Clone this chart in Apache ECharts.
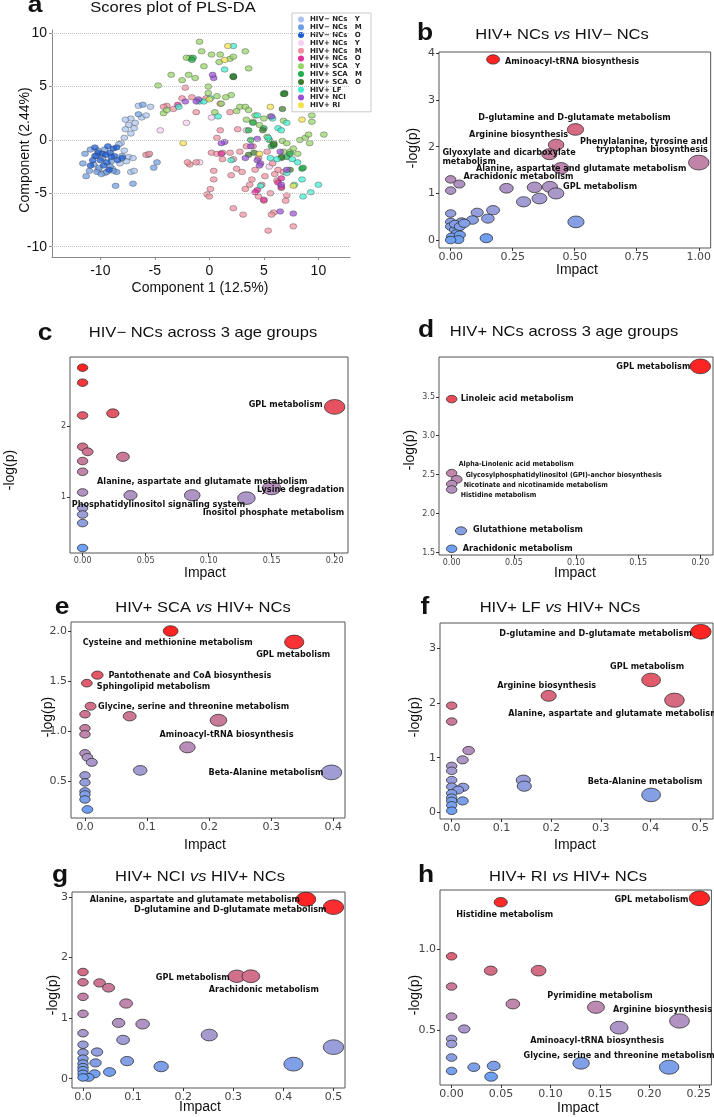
<!DOCTYPE html>
<html><head><meta charset="utf-8">
<script src="https://cdn.jsdelivr.net/npm/echarts@6.0.0/dist/echarts.min.js"></script>
<style>html,body{margin:0;padding:0;background:#fff}#c{width:714px;height:1117px}</style>
</head><body><div id="c"></div>
<script>
// ================= DATA =================
// Panel a: PLS-DA scores [Component 1, Component 2]
const plsGroupNames = ['HIV− NCs   Y','HIV− NCs   M','HIV− NCs   O','HIV+ NCs   Y','HIV+ NCs   M','HIV+ NCs   O','HIV+ SCA   Y','HIV+ SCA   M','HIV+ SCA   O','HIV+ LF','HIV+ NCI','HIV+ RI'];
const plsNegNcY = [[-6.5,3.2],[-7.2,2.0],[-7.7,1.9],[-7.4,1.4],[-7.7,1.0],[-6.9,1.1],[-6.2,2.1],[-5.4,3.1],[-5.8,2.3],[-7.2,0.6],[-7.8,0.2],[-8.1,-0.3],[-7.8,-1.0],[-7.4,-1.6],[-7.0,-1.7],[-7.6,-2.0],[-8.2,-2.2],[-7.2,-3.0],[-6.9,-2.9],[-5.6,-1.4],[-8.9,-2.7],[-9.6,-3.1],[-10.2,-2.8],[-6.8,1.6],[-8.3,-0.4]];
const plsNegNcM = [[-11.6,-2.2],[-11.3,-3.4],[-11.0,-2.9],[-10.6,-2.3],[-10.3,-3.0],[-10.1,-2.6],[-9.9,-3.2],[-9.4,-3.0],[-9.1,-2.5],[-11.4,-1.3],[-10.2,-1.0],[-9.6,-0.9],[-10.9,-0.9],[-8.6,-4.3],[-7.0,-4.1],[-5.1,-2.6],[-4.8,-2.1],[-9.0,-2.0],[-8.5,-3.0],[-6.1,3.3],[-10.5,-1.5],[-9.8,-1.7],[-8.0,-1.5],[-8.8,-2.9],[-6.5,2.4]];
const plsNegNcO = [[-10.5,-0.7],[-10.2,-1.2],[-9.8,-1.3],[-9.5,-1.4],[-9.1,-1.2],[-8.8,-0.8],[-8.5,-0.7],[-8.7,-1.5],[-9.0,-1.6],[-9.4,-2.1],[-10.0,-1.9],[-10.4,-1.5],[-9.7,-2.4],[-9.2,-2.8],[-8.4,-1.9],[-8.0,-1.7],[-10.7,-1.9],[-10.9,-2.4],[-9.3,-0.6]];
const plsPosNcY = [[-4.5,0.9],[-2.1,1.6],[0.2,2.1],[3.4,0.9],[-0.9,-2.1],[5.5,-2.5]];
const plsPosNcM = [[-5.8,-1.4],[-5.5,-1.3],[-2.2,4.9],[-2.5,3.9],[-1.6,4.0],[-1.2,2.6],[-3.3,2.9],[-3.9,3.2],[-4.2,3.1],[1.0,0.9],[0.7,0.2],[0.2,-1.2],[0.7,-1.3],[1.2,-1.2],[1.9,-1.2],[2.2,-1.8],[1.2,-1.8],[2.5,-2.7],[0.4,-2.9],[0.4,-3.7],[-1.2,-2.1],[-0.2,-5.1],[0,-5.3],[2.2,-6.4],[3.1,-7.0],[3.3,-4.6],[3.9,-3.7],[3.7,-4.2],[4.5,-5.3],[5.0,-5.7],[5.6,-5.0],[6.0,-3.2],[6.2,-3.8],[6.3,-2.8],[5.9,-6.8],[5.4,-8.5],[5.7,-7.0],[7.1,-5.2],[7.7,-8.1],[7.0,-5.7],[5.1,-3.4],[4.5,-1.7],[3.4,-0.6],[4.0,-0.6],[5.3,-1.1],[2.8,-1.1],[1.0,3.4],[1.9,2.6],[-0.3,3.9],[2.0,-3.3],[3.0,-3.0],[4.8,-4.2],[6.8,-3.0],[6.6,-4.5],[-1.8,-2.3],[-2.0,-2.1],[4.2,-2.8],[5.8,-2.2],[2.6,1.0],[0.1,-4.6]];
const plsPosNcO = [[4.4,-4.7],[4.2,-4.9],[6.6,-4.4],[6.6,-3.6],[5.0,-5.6],[6.3,-4.0],[1.1,-1.3],[-2.9,3.3]];
const plsScaY = [[-0.9,9.2],[-0.7,8.3],[0.2,8.0],[1.0,8.0],[1.9,7.6],[2.2,7.8],[3.3,8.3],[3.6,6.7],[-0.5,6.9],[-1.8,7.7],[-2.1,7.7],[-2.5,5.6],[-1.9,6.1],[-3.5,6.1],[-4.7,5.1],[-0.1,5.0],[-0.1,4.4],[0.7,4.1],[1.1,3.4],[0.5,2.6],[2.0,4.2],[2.8,3.1],[3.3,3.1],[3.6,2.8],[4.2,2.3],[3.4,1.9],[4.0,1.7],[4.6,1.4],[5.0,2.0],[5.6,2.2],[5.3,0.3],[5.9,-0.3],[6.7,-0.1],[7.1,-0.3],[6.8,-1.1],[7.4,-1.1],[7.7,-0.8],[8.3,0.0],[8.8,0.2],[9.2,-0.3],[9.4,2.3],[9.4,1.7],[10.5,0.5],[9.1,0.5],[8.1,-1.3],[-4.2,2.5],[-3.9,2.8],[1.5,4.0],[2.5,2.7],[-1.3,5.8],[0.9,7.3],[6.8,1.8]];
const plsScaM = [[-1.5,7.7],[-1.6,7.5],[2.2,5.9],[2.2,6.0],[6.9,4.4],[6.8,4.3],[5.0,1.1],[5.7,-0.6],[5.9,-0.5],[7.1,-1.6],[7.4,-1.3],[8.5,-2.7],[8.6,-2.6],[5.5,0.0],[3.8,0.0],[3.6,0.9],[6.6,-1.7],[4.0,1.6]];
const plsScaO = [[2.2,5.9],[3.6,-1.4],[4.1,-1.2],[6.9,4.3],[6.7,2.9],[6.6,-1.6],[7.4,-2.8],[5.9,-0.4],[4.9,0.9]];
const plsLf = [[2.2,8.8],[1.4,6.6],[0.1,3.9],[-0.9,3.6],[-2.8,3.1],[4.4,2.3],[5.8,2.0],[6.3,1.1],[6.6,0.9],[7.1,1.6],[5.4,0.2],[6.2,-1.8],[7.6,-1.8],[8.1,-2.1],[7.8,-4.2],[8.6,-5.3],[10.0,-4.2],[9.3,-4.9],[8.5,-3.7],[7.1,-3.1],[4.7,-4.3],[5.6,-1.7],[0.8,2.2],[2.0,-1.9],[-0.5,3.6]];
const plsNci = [[0.4,5.8],[0.3,6.1],[-2.2,3.6],[-1.0,3.8],[-1.2,3.6],[1.4,-0.2],[1.1,-0.3],[3.3,-1.7],[4.4,-1.9],[4.7,-2.2],[3.8,-0.6],[5.7,2.2],[6.5,-1.1],[6.6,-4.2],[6.5,-6.7],[7.7,-6.9],[7.1,-2.8],[4.4,0.1],[4.6,-2.4]];
const plsRi = [[1.7,8.8],[1.4,7.5],[0,3.8],[-2.4,-0.3],[8.5,1.9],[5.6,3.1],[4.6,-1.3],[7.7,-4.3]];
const plsTicks = [-10,-5,0,5,10];

// Panel b: HIV+ NCs vs HIV− NCs
const bImpact = [0.171,0.503,0.425,0.398,0.445,1.0,0,0,0.035,0.225,0.338,0.40,0.425,0.358,0.294,0.171,0.107,0.15,0.088,0.044,0.505,0.144,0,0,0,0.017,0.024,0.004,0.037,0.031,0,0.017,0.037,0.055];
const bLogP   = [3.87,2.37,2.04,1.84,1.54,1.66,1.30,1.06,1.20,1.11,1.13,1.14,1.00,0.89,0.82,0.64,0.59,0.46,0.43,0.39,0.39,0.04,0.57,0.39,0.29,0.22,0.14,0.07,0.11,0.01,0.0,0.34,0.29,0.36];
const bNames  = ['Aminoacyl-tRNA biosynthesis','D-glutamine and D-glutamate metabolism','Arginine biosynthesis','Glyoxylate and dicarboxylate\nmetabolism','Alanine, aspartate and glutamate metabolism','Phenylalanine, tyrosine and\ntryptophan biosynthesis','','','','','Arachidonic metabolism','','GPL metabolism','','','','','','','','','','','','','','','','','','','','',''];
const bXTicks = [0,0.25,0.5,0.75,1];
const bYTicks = [0,1,2,3,4];

// Panel c: HIV− NCs across 3 age groups
const cImpact = [0,0,0,0.024,0,0.004,0,0,0.032,0,0,0,0,0,0.038,0.087,0.13,0.15,0.2];
const cLogP   = [2.82,2.61,2.15,2.18,1.71,1.64,1.51,1.36,1.57,1.07,0.85,0.76,0.64,0.29,1.03,1.03,0.99,1.13,2.27];
const cNames  = ['','','','','','','','','','','','','','','Phosphatidylinositol signaling system','Alanine, aspartate and glutamate metabolism','Inositol phosphate metabolism','Lysine degradation','GPL metabolism'];
const cXTicks = [0,0.05,0.1,0.15,0.2];
const cYTicks = [1,2];

// Panel d: HIV+ NCs across 3 age groups
const dImpact = [0.2,0,0,0.004,0,0,0.0075,0];
const dLogP   = [3.89,3.47,2.52,2.44,2.38,2.31,1.78,1.55];
const dNames  = ['GPL metabolism','Linoleic acid metabolism','Alpha-Linolenic acid metabolism','Glycosylphosphatidylinositol (GPI)-anchor biosynthesis','Nicotinate and nicotinamide metabolism','Histidine metabolism','Glutathione metabolism','Arachidonic metabolism'];
const dXTicks = [0,0.05,0.1,0.15,0.2];
const dYTicks = [1.5,2,2.5,3,3.5];

// Panel e: HIV+ SCA vs HIV+ NCs
const eImpact = [0.138,0.337,0.020,0.003,0.009,0,0.072,0.215,0,0,0.165,0,0.004,0.011,0.089,0.397,0,0,0,0,0,0.004];
const eLogP   = [2.0,1.89,1.56,1.48,1.25,1.17,1.15,1.11,1.03,0.97,0.84,0.78,0.74,0.69,0.61,0.59,0.56,0.49,0.40,0.37,0.32,0.22];
const eNames  = ['Cysteine and methionine metabolism','GPL metabolism','Pantothenate and CoA biosynthesis','Sphingolipid metabolism','','','Glycine, serine and threonine metabolism','Aminoacyl-tRNA biosynthesis','','','','','','','','Beta-Alanine metabolism','','','','','',''];
const eXTicks = [0,0.1,0.2,0.3,0.4];
const eYTicks = [0.5,1,1.5,2];

// Panel f: HIV+ LF vs HIV+ NCs
const fImpact = [0.501,0.401,0.195,0.448,0,0,0.034,0.022,0,0,0,0.144,0.146,0,0.023,0.013,0,0,0,0.022,0,0,0.401];
const fLogP   = [3.30,2.42,2.13,2.05,1.95,1.66,1.13,0.96,0.85,0.76,0.59,0.59,0.48,0.47,0.46,0.41,0.35,0.27,0.21,0.21,0.13,0.03,0.32];
const fNames  = ['D-glutamine and D-glutamate metabolism','GPL metabolism','Arginine biosynthesis','Alanine, aspartate and glutamate metabolism','','','','','','','','','','','','','','','','','','','Beta-Alanine metabolism'];
const fXTicks = [0,0.1,0.2,0.3,0.4,0.5];
const fYTicks = [0,1,2,3];

// Panel g: HIV+ NCI vs HIV+ NCs
const gImpact = [0.445,0.5,0.307,0.335,0,0,0.033,0.051,0,0.086,0,0.071,0.119,0,0.08,0.252,0,0.5,0,0.028,0,0,0.025,0.088,0,0,0,0.156,0.42,0.053,0.023,0.011,0];
const gLogP   = [2.96,2.83,1.69,1.69,1.76,1.59,1.58,1.50,1.35,1.24,1.07,0.92,0.90,0.75,0.64,0.72,0.56,0.52,0.43,0.44,0.33,0.25,0.26,0.29,0.19,0.14,0.08,0.20,0.24,0.11,0.08,0.02,0.02];
const gNames  = ['Alanine, aspartate and glutamate metabolism','D-glutamine and D-glutamate metabolism','GPL metabolism','Arachidonic metabolism','','','','','','','','','','','','','','','','','','','','','','','','','','','','',''];
const gXTicks = [0,0.1,0.2,0.3,0.4,0.5];
const gYTicks = [0,1,2,3];

// Panel h: HIV+ RI vs HIV+ NCs
const hImpact = [0.2507,0.0497,0,0.0396,0.088,0,0.062,0.146,0,0.0128,0.1695,0.2305,0,0,0,0.131,0.22,0.0225,0.0426,0,0.040];
const hLogP   = [1.31,1.286,0.955,0.867,0.867,0.77,0.663,0.643,0.586,0.51,0.518,0.559,0.449,0.418,0.335,0.30,0.276,0.276,0.284,0.253,0.218];
const hNames  = ['GPL metabolism','Histidine metabolism','','','','','','Pyrimidine metabolism','','','Aminoacyl-tRNA biosynthesis','Arginine biosynthesis','','','','','Glycine, serine and threonine metabolism','','','',''];
const hXTicks = [0,0.05,0.1,0.15,0.2,0.25];
const hYTicks = [0.5,1];

// ================= LABEL PLACEMENT (style, not data) =================
const bPlace = {
 'Aminoacyl-tRNA biosynthesis':{a:'left',dx:12,dy:2},
 'D-glutamine and D-glutamate metabolism':{a:'center',dx:-1,dy:-12},
 'Arginine biosynthesis':{a:'right',dx:12,dy:-10},
 'Glyoxylate and dicarboxylate\nmetabolism':{a:'left',dx:-107,dy:3},
 'Alanine, aspartate and glutamate metabolism':{a:'left',dx:-85,dy:0},
 'Phenylalanine, tyrosine and\ntryptophan biosynthesis':{a:'right',dx:9,dy:-17},
 'Arachidonic metabolism':{a:'left',dx:-71,dy:-11},
 'GPL metabolism':{a:'left',dx:7,dy:-7}
};
const cPlace = {
 'GPL metabolism':{a:'right',dx:-12,dy:-2},
 'Alanine, aspartate and glutamate metabolism':{a:'center',dx:10,dy:-14},
 'Lysine degradation':{a:'center',dx:29,dy:2},
 'Phosphatidylinositol signaling system':{a:'center',dx:28,dy:9},
 'Inositol phosphate metabolism':{a:'center',dx:27,dy:15}
};
const dPlace = {
 'GPL metabolism':{a:'right',dx:-10,dy:0},
 'Linoleic acid metabolism':{a:'left',dx:9,dy:0},
 'Alpha-Linolenic acid metabolism':{a:'left',dx:7,dy:-9,fs:7},
 'Glycosylphosphatidylinositol (GPI)-anchor biosynthesis':{a:'left',dx:9,dy:-4,fs:7},
 'Nicotinate and nicotinamide metabolism':{a:'left',dx:12,dy:1,fs:7},
 'Histidine metabolism':{a:'left',dx:9,dy:6,fs:7},
 'Glutathione metabolism':{a:'left',dx:12,dy:-1},
 'Arachidonic metabolism':{a:'left',dx:11,dy:0}
};
const ePlace = {
 'Cysteine and methionine metabolism':{a:'center',dx:-3,dy:12},
 'GPL metabolism':{a:'center',dx:-1,dy:13},
 'Pantothenate and CoA biosynthesis':{a:'left',dx:11,dy:1},
 'Sphingolipid metabolism':{a:'left',dx:10,dy:4},
 'Glycine, serine and threonine metabolism':{a:'center',dx:64,dy:-10},
 'Aminoacyl-tRNA biosynthesis':{a:'center',dx:8,dy:14},
 'Beta-Alanine metabolism':{a:'right',dx:-8,dy:0}
};
const fPlace = {
 'D-glutamine and D-glutamate metabolism':{a:'right',dx:-9,dy:2},
 'GPL metabolism':{a:'center',dx:-4,dy:-13},
 'Arginine biosynthesis':{a:'center',dx:-2,dy:-10},
 'Alanine, aspartate and glutamate metabolism':{a:'center',dx:-61,dy:13},
 'Beta-Alanine metabolism':{a:'center',dx:-6,dy:-13}
};
const gPlace = {
 'Alanine, aspartate and glutamate metabolism':{a:'right',dx:-6,dy:0},
 'D-glutamine and D-glutamate metabolism':{a:'right',dx:-7,dy:3},
 'GPL metabolism':{a:'right',dx:-7,dy:1},
 'Arachidonic metabolism':{a:'center',dx:13,dy:13}
};
const hPlace = {
 'GPL metabolism':{a:'right',dx:-11,dy:1},
 'Histidine metabolism':{a:'center',dx:4,dy:12},
 'Pyrimidine metabolism':{a:'center',dx:4,dy:-12},
 'Arginine biosynthesis':{a:'center',dx:-17,dy:-11},
 'Aminoacyl-tRNA biosynthesis':{a:'center',dx:-22,dy:13},
 'Glycine, serine and threonine metabolism':{a:'center',dx:-50,dy:-12}
};

// ================= STYLE / LAYOUT =================
const plsColors = ['#A9C3EE','#6D9DE3','#1C5BD6','#FAD0F2','#F2909F','#E0309A','#96D465','#20AD4B','#3F7B2C','#40EDD0','#9A50D6','#F3E24C'];
const bubbleRamp = ['#6E9FF0','#A09ED6','#BE88AE','#D46C84','#E8505C','#FF2424'];
const labelFont = "'DejaVu Sans Condensed','Liberation Sans',sans-serif";
const labelSize = 9;
const titleFont = "'Liberation Sans',Arial,sans-serif";
const tickFont = "'DejaVu Sans',sans-serif";

const panelSpecs = [
 {impact:bImpact, logp:bLogP, names:bNames, place:bPlace, xTicks:bXTicks, yTicks:bYTicks, grid:{left:439,top:52,width:273,height:196}, xr:[-0.047,1.048], yr:[-0.17,4.03], xd:2, yd:0, fs:11,
  title:'{n|HIV+ NCs }{i|vs}{n| HIV− NCs}', letter:'b', tp:[562,35], lp:[425,33], yn:[413,148], xn:[577,270]},
 {impact:cImpact, logp:cLogP, names:cNames, place:cPlace, xTicks:cXTicks, yTicks:cYTicks, grid:{left:70,top:357,width:278,height:196}, xr:[-0.01,0.2106], yr:[0.22,2.97], xd:2, yd:0, fs:8,
  title:'{n|HIV− NCs across 3 age groups}', letter:'c', tp:[203,333], lp:[45,333], yn:[10,470], xn:[205,573]},
 {impact:dImpact, logp:dLogP, names:dNames, place:dPlace, xTicks:dXTicks, yTicks:dYTicks, grid:{left:439,top:357,width:274,height:198}, xr:[-0.0102,0.2102], yr:[1.47,4.01], xd:2, yd:1, fs:8,
  title:'{n|HIV+ NCs across 3 age groups}', letter:'d', tp:[564,332], lp:[426,330], yn:[410,450], xn:[575,573]},
 {impact:eImpact, logp:eLogP, names:eNames, place:ePlace, xTicks:eXTicks, yTicks:eYTicks, grid:{left:71,top:622,width:274,height:196}, xr:[-0.0225,0.4188], yr:[0.135,2.09], xd:1, yd:1, fs:11,
  title:'{n|HIV+ SCA }{i|vs}{n| HIV+ NCs}', letter:'e', tp:[203,608], lp:[62,607], yn:[48,717], xn:[205,845]},
 {impact:fImpact, logp:fLogP, names:fNames, place:fPlace, xTicks:fXTicks, yTicks:fYTicks, grid:{left:440,top:623,width:273,height:196}, xr:[-0.0235,0.5255], yr:[-0.12,3.46], xd:1, yd:0, fs:11,
  title:'{n|HIV+ LF }{i|vs}{n| HIV+ NCs}', letter:'f', tp:[560,608], lp:[425,607], yn:[415,717], xn:[575,845]},
 {impact:gImpact, logp:gLogP, names:gNames, place:gPlace, xTicks:gXTicks, yTicks:gYTicks, grid:{left:72,top:892,width:273,height:196}, xr:[-0.022,0.523], yr:[-0.154,3.08], xd:1, yd:0, fs:11,
  title:'{n|HIV+ NCI }{i|vs}{n| HIV+ NCs}', letter:'g', tp:[200,877], lp:[60,875], yn:[53,995], xn:[200,1107]},
 {impact:hImpact, logp:hLogP, names:hNames, place:hPlace, xTicks:hXTicks, yTicks:hYTicks, grid:{left:440,top:890,width:273,height:195}, xr:[-0.0117,0.2628], yr:[0.167,1.361], xd:2, yd:1, fs:11,
  title:'{n|HIV+ RI }{i|vs}{n| HIV+ NCs}', letter:'h', tp:[568,877], lp:[426,875], yn:[415,995], xn:[578,1108]}
];

// ================= BUILD =================
const grids = [{left:52, top:30, width:298, height:227}];
const xAxes = [{gridIndex:0, type:'value', min:-14.43, max:12.9,
  axisLine:{show:true, onZero:false, lineStyle:{color:'#888'}},
  axisTick:{show:true, length:3, customValues:plsTicks, lineStyle:{color:'#888'}},
  axisLabel:{customValues:plsTicks, fontSize:14, color:'#111', fontFamily:titleFont, margin:7},
  splitLine:{show:false}}];
const yAxes = [{gridIndex:0, type:'value', min:-10.97, max:10.3,
  axisLine:{show:true, onZero:false, lineStyle:{color:'#888'}},
  axisTick:{show:true, length:3, customValues:plsTicks, lineStyle:{color:'#888'}},
  axisLabel:{customValues:plsTicks, fontSize:14, color:'#111', fontFamily:titleFont, margin:5},
  splitLine:{show:false}}];
const series = [];
const visualMaps = [];
const graphics = [];

series.push({type:'scatter', name:'grid-a', xAxisIndex:0, yAxisIndex:0, data:[], z:1,
  markLine:{silent:true, symbol:'none', label:{show:false}, lineStyle:{type:'dotted', color:'#c4c4c4', width:1},
    data: plsTicks.map(v => ({yAxis:v}))}});
const plsData = [plsNegNcY,plsNegNcM,plsNegNcO,plsPosNcY,plsPosNcM,plsPosNcO,plsScaY,plsScaM,plsScaO,plsLf,plsNci,plsRi];
plsData.forEach((d,i) => {
  series.push({name:plsGroupNames[i], type:'scatter', xAxisIndex:0, yAxisIndex:0, data:d, symbol:'circle', symbolSize:[7,5.5],
    itemStyle:{color:plsColors[i], opacity:0.72, borderColor:'#333', borderWidth:0.5}, emphasis:{disabled:true}, z:3});
});

function txt(x, y, text, o) {
  o = o || {};
  graphics.push({type:'text', x:x, y:y, rotation:o.rot || 0, scaleX:o.sx || 1, z:50,
    style:{text:text, fontSize:o.fs || 14, fontFamily:o.ff || titleFont, fontWeight:o.fw || 'normal',
      fill:o.fill || '#111', align:'center', verticalAlign:'middle', rich:o.rich}});
}
txt(173, 8, 'Scores plot of PLS-DA', {fs:14.5, sx:1.14});
txt(35, 5, 'a', {fs:24, fw:'bold', sx:1.1});
txt(25, 150, 'Component (2.44%)', {fs:14, rot:Math.PI/2});
txt(200, 288, 'Component 1 (12.5%)', {fs:14});

panelSpecs.forEach((p, k) => {
  const gi = k + 1;
  grids.push(Object.assign({show:true, borderColor:'#555', borderWidth:1}, p.grid));
  xAxes.push({gridIndex:gi, type:'value', min:p.xr[0], max:p.xr[1], axisLine:{show:false, onZero:false},
    axisTick:{show:true, length:3, customValues:p.xTicks, lineStyle:{color:'#333'}},
    axisLabel:{customValues:p.xTicks, formatter:v => v.toFixed(p.xd), fontSize:p.fs, color:'#444', fontFamily:tickFont, margin:4},
    splitLine:{show:false}});
  yAxes.push({gridIndex:gi, type:'value', min:p.yr[0], max:p.yr[1], axisLine:{show:false, onZero:false},
    axisTick:{show:true, length:3, customValues:p.yTicks, lineStyle:{color:'#333'}},
    axisLabel:{customValues:p.yTicks, formatter:v => v.toFixed(p.yd), fontSize:p.fs, color:'#444', fontFamily:tickFont, margin:4},
    splitLine:{show:false}});
  const maxImp = Math.max.apply(null, p.impact);
  const data = p.impact.map((x, i) => {
    const r = maxImp > 0 ? x / maxImp : 0;
    const w = 10.5 + 10 * Math.pow(r, 0.8);
    const item = {value:[x, p.logp[i]], symbolSize:[w, w * 0.72]};
    const nm = p.names[i];
    if (nm) {
      const pl = p.place[nm];
      const fs = pl.fs || labelSize;
      item.label = {show:true, formatter:nm, position:'inside', align:pl.a, verticalAlign:'middle',
        offset:[pl.dx, pl.dy], fontSize:fs, lineHeight:fs * 0.85 + 0.5,
        fontWeight:'bold', fontFamily:labelFont, color:'#111'};
    }
    return item;
  });
  const si = series.length;
  series.push({type:'scatter', name:'pathways-' + p.letter, xAxisIndex:gi, yAxisIndex:gi, data:data, symbol:'circle',
    itemStyle:{borderColor:'#222', borderWidth:0.7, opacity:1}, emphasis:{disabled:true}, z:3});
  visualMaps.push({type:'continuous', show:false, seriesIndex:si, dimension:1,
    min:Math.min.apply(null, p.logp), max:Math.max.apply(null, p.logp), inRange:{color:bubbleRamp}});
  txt(p.tp[0], p.tp[1], p.title, {sx:1.14, rich:{
    n:{fontSize:14.5, fontFamily:titleFont, fill:'#111'},
    i:{fontSize:14.5, fontFamily:titleFont, fontStyle:'italic', fill:'#111'}}});
  txt(p.lp[0], p.lp[1], p.letter, {fs:24, fw:'bold', sx:1.1});
  txt(p.yn[0], p.yn[1], '-log(p)', {fs:14, rot:Math.PI/2});
  txt(p.xn[0], p.xn[1], 'Impact', {fs:14});
});

const chart = echarts.init(document.getElementById('c'), null, {renderer:'canvas'});
chart.setOption({
  animation:false,
  backgroundColor:'#fff',
  grid:grids, xAxis:xAxes, yAxis:yAxes, series:series, visualMap:visualMaps, graphic:graphics,
  legend:{data:plsGroupNames, orient:'vertical', left:292, top:13, padding:[3,9,3,6], itemGap:0.8,
    itemWidth:10, itemHeight:6, icon:'circle', borderColor:'#bbb', borderWidth:0.8, selectedMode:false,
    itemStyle:{opacity:1, borderWidth:0},
    textStyle:{fontSize:7, lineHeight:6, height:6, fontWeight:'bold', fontFamily:tickFont, color:'#222', padding:[0,0,0,-1]}}
});
</script></body></html>
